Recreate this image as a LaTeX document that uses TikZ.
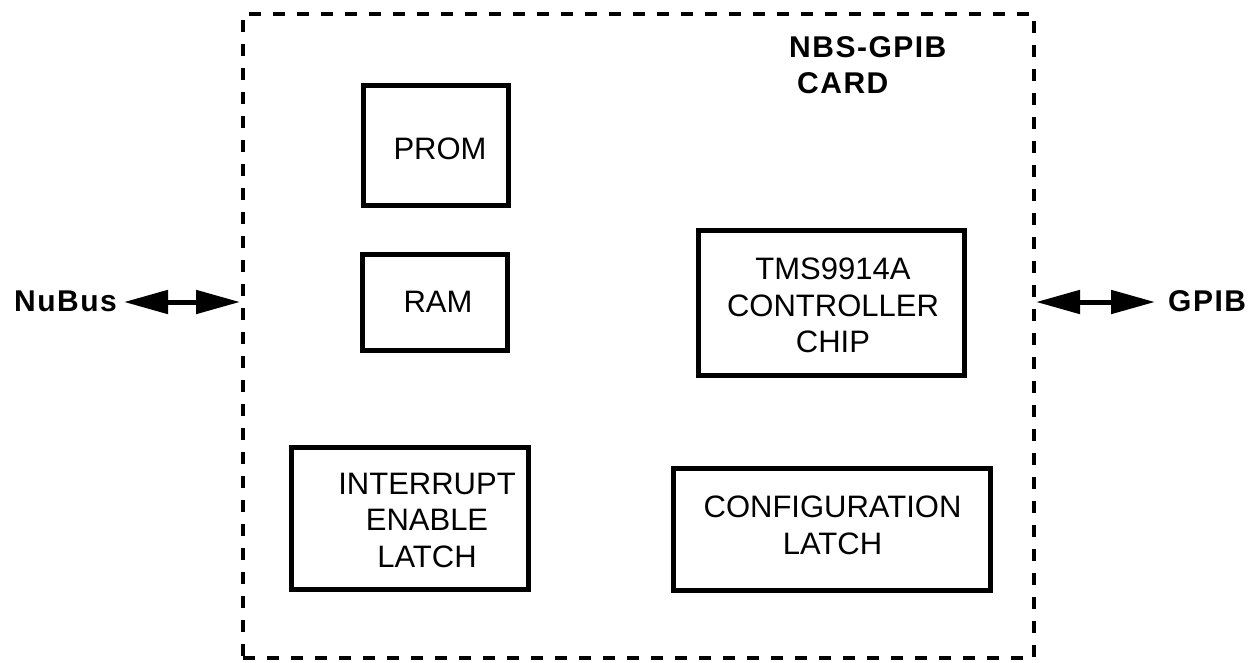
\documentclass[tikz,border=0pt]{standalone}
\usepackage{fontspec}
\setmainfont{Liberation Sans}
\newfontfamily\lblfont[LetterSpace=5]{Liberation Sans}
\usetikzlibrary{arrows.meta}
\tikzset{
  blk/.style={draw, line width=5pt, rectangle, inner sep=0pt},
  txt/.style={inner sep=0pt, align=center, font=\fontsize{31}{36.5}\selectfont, anchor=north},
  lbl/.style={inner sep=0pt, anchor=base west, font=\lblfont\bfseries\fontsize{30}{34}\selectfont},
  biarrow/.style={line width=5pt, {Triangle[length=44pt,width=23pt]}-{Triangle[length=44pt,width=23pt]}},
}
\begin{document}
\begin{tikzpicture}[x=1pt,y=-1pt]
\useasboundingbox (0,0) rectangle (1260,662);
% card
\node[draw, line width=4pt, dash pattern=on 12pt off 12pt, rectangle, inner sep=0pt,
      minimum width=791pt, minimum height=644pt] (card) at (638.5,336) {};
% blocks (centre-line coordinates)
\node[blk, minimum width=145pt, minimum height=120pt] (prom) at (435.5,145) {};
\node[blk, minimum width=145pt, minimum height=96pt] (ram) at (435,302) {};
\node[blk, minimum width=266pt, minimum height=145pt] (tms) at (831,302.5) {};
\node[blk, minimum width=237pt, minimum height=142pt] (intr) at (409.5,518) {};
\node[blk, minimum width=317pt, minimum height=122pt] (conf) at (831.5,529) {};
% texts
\node[txt] (promt) at (440,137.8) {PROM};
\node[txt] (ramt) at (438,290.8) {RAM};
\node[txt] (tmst) at (833,257.8) {TMS9914A\\CONTROLLER\\CHIP};
\node[txt] (intrt) at (427,472.8) {INTERRUPT\\ENABLE\\LATCH};
\node[txt] (conft) at (832.5,495.8) {CONFIGURATION\\LATCH};
% bold labels
\node[lbl] (title1) at (789,57) {NBS-GPIB};
\node[lbl] (title2) at (797,93) {CARD};
\node[lbl] (nubus) at (14,311) {NuBus};
\node[lbl] (gpib) at (1168,311) {GPIB};
% arrows
\coordinate (nl) at (124,302);
\coordinate (nr) at (240,302);
\coordinate (gl) at (1036,302);
\coordinate (gr) at (1155,302);
\draw[biarrow] (nl) -- (nr);
\draw[biarrow] (gl) -- (gr);
\end{tikzpicture}
\end{document}
